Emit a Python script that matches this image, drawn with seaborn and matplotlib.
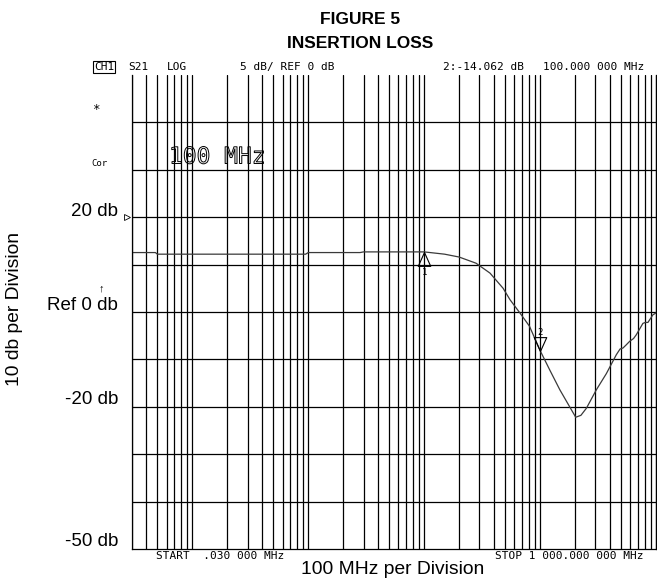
import matplotlib
matplotlib.use('Agg')
import matplotlib.pyplot as plt
import matplotlib.patheffects as pe
from matplotlib.ticker import LogLocator, NullFormatter
import numpy as np
import pandas as pd
import seaborn as sns

# trace (MHz, dB)
freq_mhz = [0.03, 0.048, 0.05, 0.95, 1.0, 2.8, 3.0, 10, 15, 20, 28, 37, 48, 55,
            67, 81, 100, 121, 148, 180, 203, 225, 251, 306, 373, 455, 490, 519,
            550, 592, 640, 676, 771, 810, 852, 940, 1000]
loss_db = [-3.73, -3.73, -3.90, -3.90, -3.73, -3.73, -3.66, -3.66, -3.9, -4.2,
           -4.85, -5.9, -7.5, -8.7, -10.1, -11.5, -14.06, -16.1, -18.2, -20.0,
           -21.1, -20.9, -20.15, -18.2, -16.5, -14.5, -13.9, -13.8, -13.5, -13.1,
           -12.8, -12.4, -11.2, -11.1, -11.1, -10.3, -10.1]
marker_freq = [10, 100]
marker_db = [-3.66, -14.062]
marker_name = ['1', '2']
ref_level = [0]
left_labels = ['20 db', 'Ref 0 db', '-20 db', '-50 db']

df = pd.DataFrame({'freq': freq_mhz, 'db': loss_db})

sns.set_style('white')
plt.rcParams['font.family'] = ['Liberation Sans', 'DejaVu Sans']
plt.rcParams['text.color'] = 'black'

W, H = 657, 581
fig = plt.figure(figsize=(W / 100, H / 100), dpi=100)


def fx(x, y):
    return x / W, 1 - y / H


ax = fig.add_axes([131.7 / W, (H - 549) / H, (656 - 131.7) / W, (549 - 75) / H])
sns.lineplot(data=df, x='freq', y='db', ax=ax, color='#3a3a3a', lw=0.9)
ax.set_xscale('log')
ax.set_xlim(0.03, 1000)
ax.set_ylim(-35, 15)
ax.set_yticks(np.arange(-30, 15, 5))
ax.xaxis.set_major_locator(LogLocator(base=10))
ax.xaxis.set_minor_locator(LogLocator(base=10, subs=range(2, 10)))
ax.xaxis.set_minor_formatter(NullFormatter())
ax.grid(True, which='both', color='black', lw=0.9)
ax.tick_params(which='both', length=0, labelbottom=False, labelleft=False)
ax.set_xlabel('')
ax.set_ylabel('')
for s in ['left', 'bottom', 'right']:
    ax.spines[s].set_color('black')
    ax.spines[s].set_linewidth(0.9)
ax.spines['top'].set_visible(False)

# markers 1 and 2
up = [(0, 0), (-0.45, -1), (0.45, -1), (0, 0)]
down = [(0, 0), (-0.45, 1), (0.45, 1), (0, 0)]
ax.plot(marker_freq[0], marker_db[0], marker=up, ms=20, mfc='none', mec='black', mew=0.8)
ax.plot(marker_freq[1], marker_db[1], marker=down, ms=20, mfc='none', mec='black', mew=0.8)
ax.annotate(marker_name[0], (marker_freq[0], marker_db[0]), xytext=(0, -15),
            textcoords='offset points', ha='center', va='center',
            family='DejaVu Sans Mono', fontsize=6.5)
ax.annotate(marker_name[1], (marker_freq[1], marker_db[1]), xytext=(0, 13),
            textcoords='offset points', ha='center', va='center',
            family='DejaVu Sans Mono', fontsize=6.5)
# reference pointer
ax.plot([-0.009], ref_level, marker='>', ms=4, mfc='white', mec='black', mew=0.6,
        transform=ax.get_yaxis_transform(), clip_on=False)

# titles
fig.text(*fx(360, 19), 'FIGURE 5', ha='center', va='center', fontsize=12.5,
         weight='bold', family=['Liberation Sans Narrow', 'Liberation Sans'])
fig.text(*fx(360, 43), 'INSERTION LOSS', ha='center', va='center', fontsize=12.5,
         weight='bold', family=['Liberation Sans Narrow', 'Liberation Sans'])

# instrument header
mono = dict(family='DejaVu Sans Mono', fontsize=8, va='center', ha='left')
fig.text(*fx(94, 67), 'CH1', bbox=dict(boxstyle='square,pad=0.1', fc='none', ec='black', lw=0.8), **mono)
fig.text(*fx(128, 67), 'S21', **mono)
fig.text(*fx(167, 67), 'LOG', **mono)
fig.text(*fx(240, 67), '5 dB/ REF 0 dB', **mono)
fig.text(*fx(443, 67), '2:-14.062 dB', **mono)
fig.text(*fx(543, 67), '100.000 000 MHz', **mono)
fig.text(*fx(92, 109), '*', family='DejaVu Sans Mono', fontsize=9, va='center')
fig.text(*fx(91, 163), 'Cor', family='DejaVu Sans Mono', fontsize=6.5, va='center')
fig.text(*fx(169, 157), '100 MHz', family='DejaVu Sans Mono', fontsize=16.5,
         va='center', ha='left', color=(0, 0, 0, 0),
         path_effects=[pe.Stroke(linewidth=0.7, foreground='black')])
fig.text(*fx(156, 556), 'START  .030 000 MHz', **mono)
fig.text(*fx(495, 556), 'STOP 1 000.000 000 MHz', **mono)

# document labels
ys = [211, 306, 400, 541]
for lab, y in zip(left_labels, ys):
    fig.text(*fx(118, y), lab, ha='right', va='center', fontsize=13.5)
fig.text(*fx(101, 288), '↑', ha='center', va='center', fontsize=8)
fig.text(*fx(15, 309), '10 db per Division', rotation=90, ha='center', va='center', fontsize=13.9)
fig.text(*fx(393, 570), '100 MHz per Division', ha='center', va='center', fontsize=13.9)

fig.savefig('out.png', dpi=100)
